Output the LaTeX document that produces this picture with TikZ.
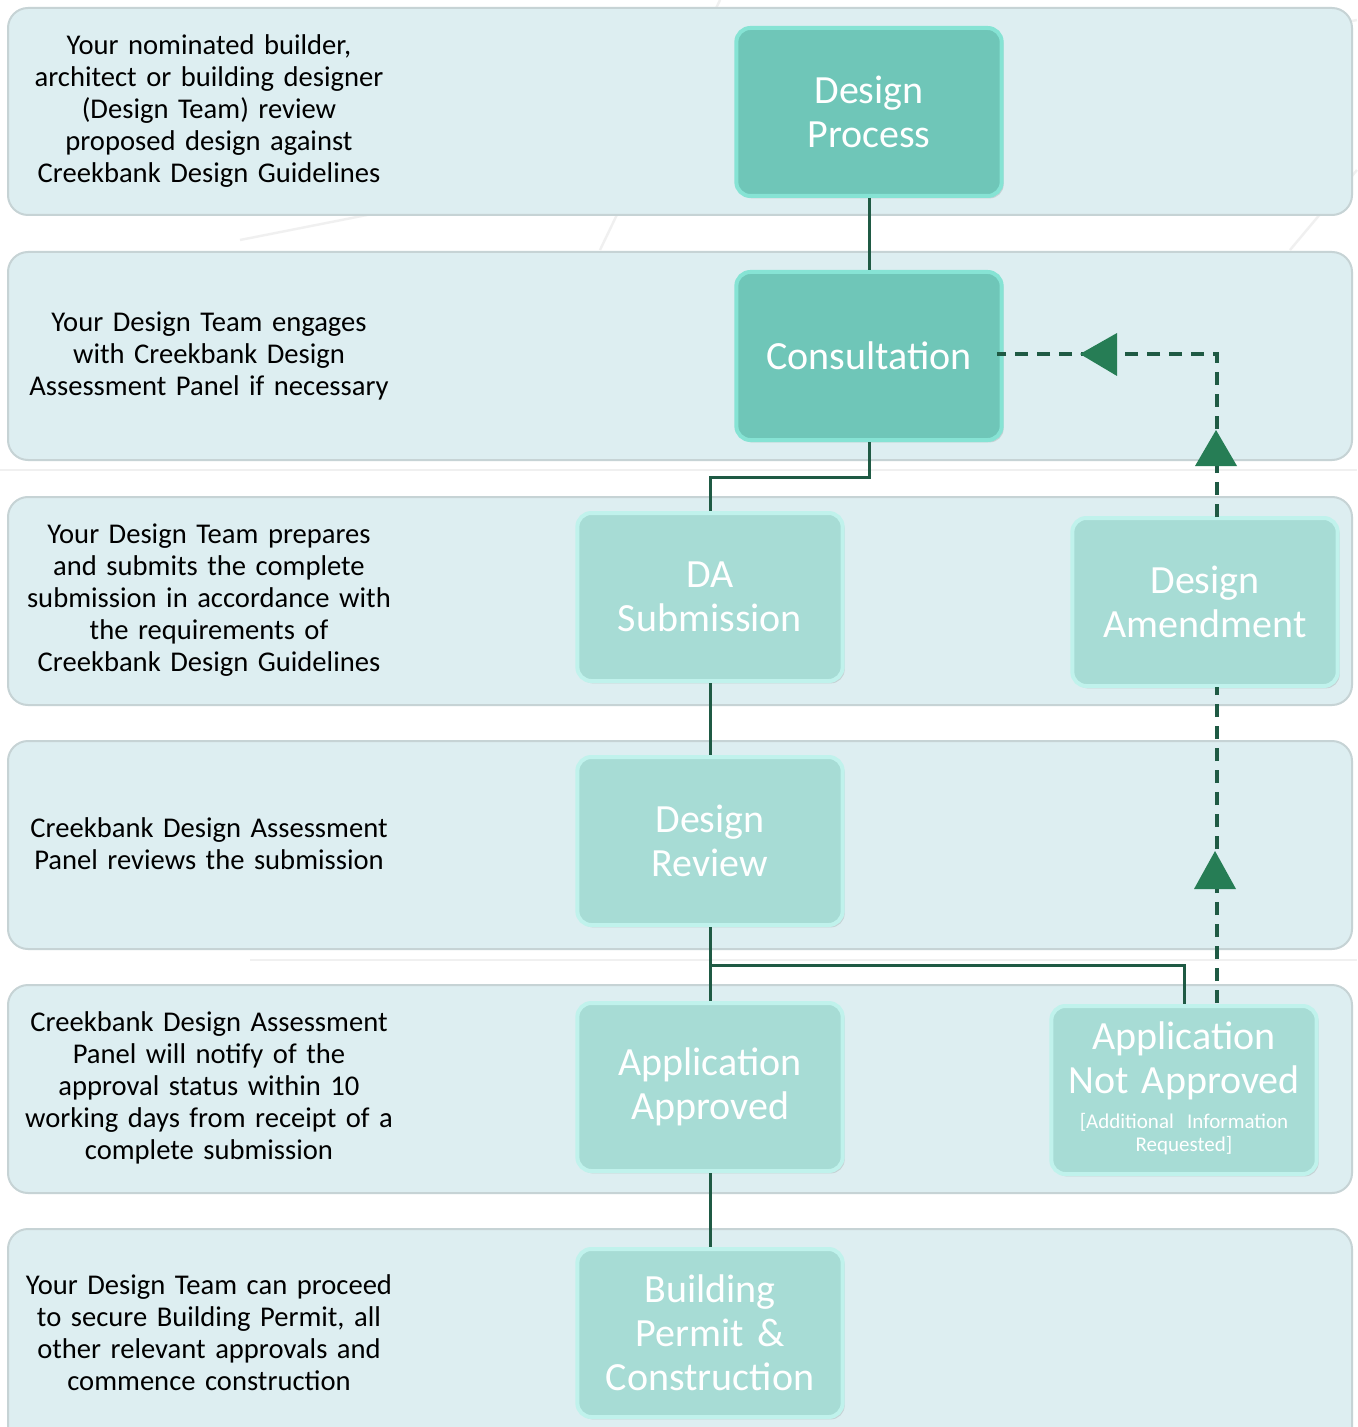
\documentclass[tikz,border=0pt]{standalone}
\usepackage{fontspec}
\setmainfont{Carlito}
\usetikzlibrary{shadows}
\definecolor{bandfill}{HTML}{DDEEF1}
\definecolor{bandedge}{HTML}{C6D3D5}
\definecolor{darkbox}{HTML}{6FC6B8}
\definecolor{darkedge}{HTML}{86E3D4}
\definecolor{lightbox}{HTML}{A7DCD5}
\definecolor{lightedge}{HTML}{C0F2EC}
\definecolor{conn}{HTML}{1F5A44}
\definecolor{tri}{HTML}{267D55}
\begin{document}
\begin{tikzpicture}[x=0.5pt,y=-0.5pt,
  band/.style={fill=bandfill,draw=bandedge,line width=1pt,rounded corners=10pt},
  desc/.style={text width=200pt,align=center,font=\fontsize{14.3}{16}\selectfont,text=black},
  boxbase/.style={rectangle,rounded corners=7pt,minimum width=126pt,minimum height=84pt,
     text width=126pt,align=center,text=white,line width=2pt,
     font=\fontsize{20}{22}\selectfont,
     drop shadow={opacity=0.25,shadow xshift=1pt,shadow yshift=-1.2pt}},
  darkstep/.style={boxbase,fill=darkbox,draw=darkedge},
  lightstep/.style={boxbase,fill=lightbox,draw=lightedge},
  link/.style={draw=conn,line width=1.5pt},
  dlink/.style={draw=conn,line width=1.6pt,dash pattern=on 6.5pt off 4.5pt},
  tri/.style={fill=tri}
]
\useasboundingbox (0,0) rectangle (1357,1427);
\fill[white] (0,0) rectangle (1357,1427);
% faint background sketch lines
\begin{scope}[draw=black!6,line width=1.2pt]
\draw (240,240) -- (1357,20);
\draw (0,470) -- (1357,470);
\draw (250,960) -- (1357,960);
\draw (1290,250) -- (1357,170);
\draw (600,250) -- (720,0);
\end{scope}
% bands
\draw[band] (8,8) rectangle (1352,215);
\draw[band] (8,252) rectangle (1352,460);
\draw[band] (8,497) rectangle (1352,705);
\draw[band] (8,741) rectangle (1352,949);
\draw[band] (8,985) rectangle (1352,1193);
\draw[band] (8,1229) rectangle (1352,1460);
% descriptions
\node[desc] (t1) at (209,111) {Your nominated builder,\\architect or building designer\\(Design Team) review\\proposed design against\\Creekbank Design Guidelines};
\node[desc] (t2) at (209,356) {Your Design Team engages\\with Creekbank Design\\Assessment Panel if necessary};
\node[desc] (t3) at (209,600) {Your Design Team prepares\\and submits the complete\\submission in accordance with\\the requirements of\\Creekbank Design Guidelines};
\node[desc] (t4) at (209,844) {Creekbank Design Assessment\\Panel reviews the submission};
\node[desc] (t5) at (209,1088) {Creekbank Design Assessment\\Panel will notify of the\\approval status within 10\\working days from receipt of a\\complete submission};
\node[desc] (t6) at (209,1333) {Your Design Team can proceed\\to secure Building Permit, all\\other relevant approvals and\\commence construction};
% step boxes
\node[darkstep] (dp) at (869,112) {Design\\Process};
\node[darkstep] (cons) at (869,356) {Consultation};
\node[lightstep] (da) at (710,597) {DA\\Submission};
\node[lightstep] (amend) at (1205,602) {Design\\Amendment};
\node[lightstep] (rev) at (710,841) {Design\\Review};
\node[lightstep] (appr) at (710,1087) {Application\\Approved};
\node[lightstep] (napp) at (1184,1090) {Application\\Not Approved\\[2pt]{\fontsize{10.5}{11.5}\selectfont\begin{tabular}{@{}c@{}}[Additional Information\\Requested]\end{tabular}}};
\node[lightstep] (bp) at (710,1333) {Building\\Permit \&\\Construction};
% solid connectors
\draw[link] (dp.south) -- (cons.north);
\coordinate (c1) at (869,477);
\draw[link] (cons.south) -- (c1) -| (da.north);
\draw[link] (da.south) -- (rev.north);
\coordinate (c2) at (710,965);
\draw[link] (rev.south) -- (appr.north);
\draw[link] (c2) -| (napp.north);
\draw[link] (appr.south) -- (bp.north);
% dashed feedback
\coordinate (d1) at (1217,1003);
\coordinate (d2) at (1217,687);
\coordinate (d3) at (1217,517);
\coordinate (d4) at (1217,354);
\coordinate (d5) at (997,354);
\draw[dlink] (d1) -- (d2);
\draw[dlink] (d3) -- (d4) -- (d5);
\fill[tri] (1215,851) -- (1236,889) -- (1194,889) -- cycle;
\fill[tri] (1216,430) -- (1237,466) -- (1195,466) -- cycle;
\fill[tri] (1080,354) -- (1117,333) -- (1117,376) -- cycle;
\end{tikzpicture}
\end{document}
